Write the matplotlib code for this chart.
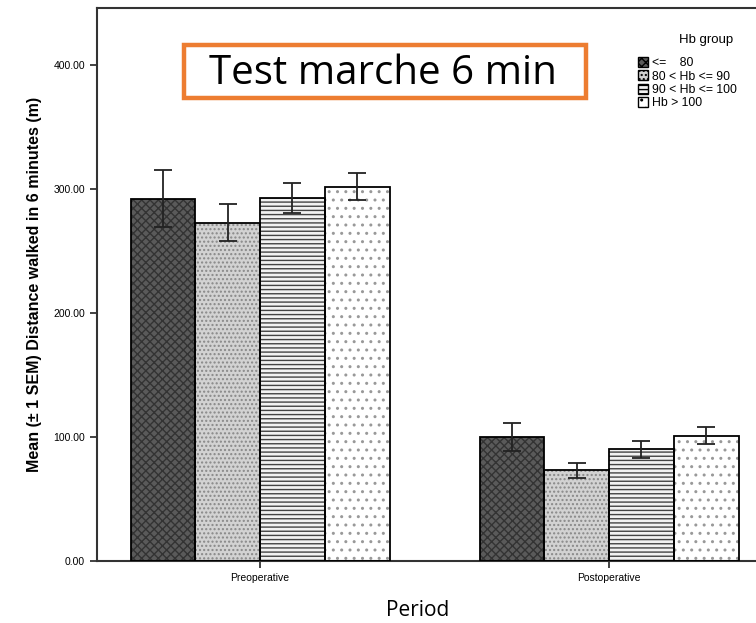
import matplotlib
matplotlib.use("Agg")
import matplotlib.pyplot as plt
from matplotlib.patches import Patch, Rectangle
import numpy as np

plt.rcParams["font.family"] = ["Liberation Sans", "DejaVu Sans"]
plt.rcParams["hatch.linewidth"] = 1.0

periods = ["Preoperative", "Postoperative"]
groups = ["<=    80", "80 < Hb <= 90", "90 < Hb <= 100", "Hb > 100"]
means = [
    [292, 100],
    [273, 73],
    [293, 90],
    [302, 101],
]
sems = [
    [23, 11],
    [15, 6],
    [12, 7],
    [11, 7],
]

fills = ["#5a5a5a", "#d2d2d2", "#f2f2f2", "#ffffff"]
hatch_cols = ["#333333", "#888888", "#444444", "#999999"]
hatches = ["xxxx", "....", "----", ".."]

W, H = 756, 623
fig = plt.figure(figsize=(W / 100, H / 100), dpi=100)
ax = fig.add_axes([97 / W, 62 / H, 659 / W, 553 / H])

x = np.arange(len(periods))
w = 0.1855
for i in range(len(groups)):
    pos = x + (i - 1.5) * w
    ax.bar(pos, means[i], w, color=fills[i], hatch=hatches[i],
           edgecolor=hatch_cols[i], linewidth=0, zorder=2)
    ax.bar(pos, means[i], w, fill=False, edgecolor="black", linewidth=1.3, zorder=3)
    ax.errorbar(pos, means[i], yerr=sems[i], fmt="none", ecolor="#222222",
                elinewidth=1.3, capsize=6.5, capthick=1.3, zorder=4)

ax.set_xlim(-0.467, 1.421)
ax.set_ylim(0, 446)
ax.set_yticks([0, 100, 200, 300, 400])
ax.set_yticklabels(["0.00", "100.00", "200.00", "300.00", "400.00"], fontsize=7.5)
ax.set_xticks(x)
ax.set_xticklabels(periods, fontsize=7.5)
ax.tick_params(axis="both", length=5, width=1.2, color="#222222")
ax.spines["right"].set_visible(False)
for s in ["left", "top", "bottom"]:
    ax.spines[s].set_linewidth(1.5)
    ax.spines[s].set_color("#333333")

ax.set_ylabel("Mean (\u00b1 1 SEM) Distance walked in 6 minutes (m)",
              fontsize=11.5, fontweight="bold", labelpad=8)
fig.text(418 / W, 1 - 611 / H, "Period", fontsize=15, ha="center", va="center",
         family=["Open Sans", "DejaVu Sans"])

# legend
fig.text(706 / W, 1 - 40 / H, "Hb group", fontsize=9.5, ha="center", va="center")
handles = [Patch(facecolor=fills[i], edgecolor="black", hatch=hatches[i]) for i in range(len(groups))]
fig.legend(handles, groups, loc="upper left", bbox_to_anchor=(638 / W, 1 - 57 / H),
           frameon=False, fontsize=8.8, handlelength=0.85, handleheight=0.9,
           handletextpad=0.3, labelspacing=0.08, borderpad=0, borderaxespad=0)

# title box
fig.patches.append(Rectangle((184 / W, 1 - 98 / H), 402 / W, 53 / H,
                             transform=fig.transFigure, facecolor="white",
                             edgecolor="#ED7D31", linewidth=3.2, zorder=5))
fig.text(383 / W, 1 - 84 / H, "Test marche 6 min", fontsize=29, ha="center",
         va="baseline", family=["Open Sans", "DejaVu Sans"], zorder=6)

fig.savefig("out.png", dpi=100)
